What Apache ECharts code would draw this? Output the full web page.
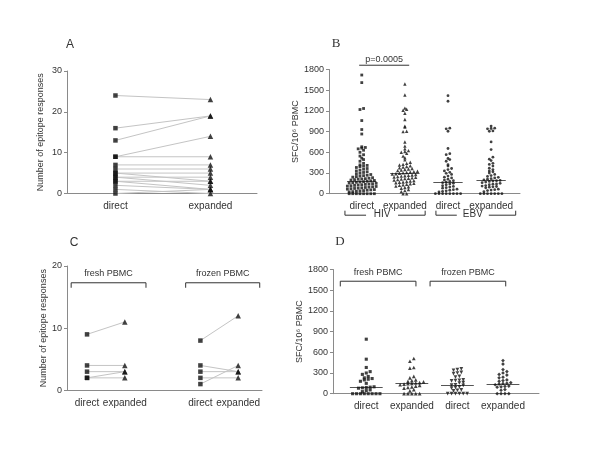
<!DOCTYPE html>
<html><head><meta charset="utf-8">
<script src="https://cdn.jsdelivr.net/npm/echarts@6/dist/echarts.min.js"></script>
<style>html,body{margin:0;background:#fff}#c{width:600px;height:450px}</style>
</head><body><div id="c"></div>
<script>
// ---------- DATA ----------
const catsA = ['direct', 'expanded'];
const aDirect   = [24, 16, 13, 9, 9, 7, 6, 5, 5, 4, 4, 3, 3, 2, 1, 0];
const aExpanded = [23, 19, 19, 14, 9, 7, 6, 5, 3, 4, 2, 3, 1, 1, 0, 1];

const catsB = ['direct', 'expanded', 'direct', 'expanded'];
const groupsB = ['HIV', 'EBV'];
const bHivDirect = [0, 0, 0, 0, 0, 0, 0, 0,
  26, 30, 35, 40, 45, 50, 55, 60, 66, 72,
  76, 80, 85, 90, 95, 100, 105, 110, 115, 120,
  125, 130, 135, 140, 145, 150, 155, 160, 165, 170,
  175, 180, 186, 192, 198, 204, 210, 214, 218,
  225, 232, 240, 248, 255, 262, 268,
  278, 288, 298, 308, 318,
  330, 342, 355, 365,
  380, 392, 400, 410, 418,
  440, 470, 495, 515,
  545, 565, 600,
  630, 650, 660, 670, 680,
  865, 930, 1060, 1220, 1235, 1610, 1720];
const bHivExpanded = [0, 0,
  30, 45, 60,
  80, 90, 100, 110, 120,
  128, 135, 142, 150, 158, 165, 170,
  176, 183, 190, 197, 204, 211, 218,
  224, 230, 236, 242, 248, 254, 260, 266,
  272, 278, 284, 290, 296, 302, 308, 314, 320,
  326, 334, 342, 350, 358, 366,
  375, 385, 395, 405, 415,
  425, 440, 455,
  490, 520, 545,
  585, 600, 612, 625, 650, 690,
  750, 900, 905, 965, 980, 1075, 1165, 1210, 1225, 1240, 1430, 1590];
const bEbvDirect = [0, 0, 0, 0, 0, 0, 0, 0,
  25, 35, 42, 50, 58, 65,
  80, 88, 96, 105, 115,
  130, 140, 150, 160, 168,
  178, 188, 198, 210,
  228, 240, 255,
  280, 295, 310,
  330, 350, 365,
  400, 420,
  470, 495, 510,
  565, 580,
  655,
  905, 940, 950, 1340, 1420];
const bEbvExpanded = [0, 0, 0, 0, 0, 0, 0,
  30, 45, 52, 58, 65,
  85, 95, 100, 104, 110, 118,
  130, 138, 142, 150, 160, 168,
  178, 184, 188, 192, 200, 210, 218,
  228, 238, 250, 262,
  280, 300, 318,
  330, 350, 370,
  400, 425, 440,
  480, 500, 530,
  640, 750,
  905, 910, 940, 945, 950, 980];
const mediansB = [185, 290, 170, 188];
const pValueB = 'p=0.0005';

const catsC = ['direct', 'expanded', 'direct', 'expanded'];
const groupsC = ['fresh PBMC', 'frozen PBMC'];
const cFreshDirect    = [9, 4, 3, 2, 2];
const cFreshExpanded  = [11, 4, 3, 3, 2];
const cFrozenDirect   = [8, 4, 3, 2, 1];
const cFrozenExpanded = [12, 3, 3, 2, 4];

const catsD = ['direct', 'expanded', 'direct', 'expanded'];
const groupsD = ['fresh PBMC', 'frozen PBMC'];
const dFreshDirect = [0, 0, 0, 0, 0, 0, 0, 0, 30, 45, 55, 80, 85, 90, 95, 100, 150, 180,
  200, 210, 220, 230, 250, 280, 300, 320, 380, 500, 790];
const dFreshExpanded = [0, 0, 0, 0, 0, 40, 60, 80, 90, 100, 110, 120, 130, 140, 145, 150, 155, 160,
  170, 180, 190, 200, 230, 250, 370, 380, 470, 510];
const dFrozenDirect = [0, 0, 0, 0, 0, 0, 40, 50, 55, 80, 90, 100, 120, 125, 130, 155, 160,
  185, 190, 195, 200, 240, 250, 290, 300, 310, 340, 350, 360];
const dFrozenExpanded = [0, 0, 0, 0, 50, 60, 95, 100, 105, 110, 130, 140, 145, 150, 160,
  180, 190, 200, 230, 240, 270, 280, 300, 320, 350, 430, 480];
const mediansD = [88, 145, 128, 140];

// ---------- LAYOUT ----------
const G = [
  {left: 67, top: 71, width: 190, height: 122.5, xmin: -0.51, xmax: 1.49},
  {left: 329, top: 69.5, width: 191, height: 124.2, xmin: -0.76, xmax: 3.67},
  {left: 67, top: 266, width: 195, height: 124.3, xmin: -0.53, xmax: 4.63},
  {left: 333, top: 269.5, width: 206, height: 124.2, xmin: -0.73, xmax: 3.79}
];
const TXT = '#333';
const AX = '#8a8a8a';
const FONT = 'Liberation Sans, Arial, sans-serif';

// row-binned dot plot layout (points sharing a row are spread sideways)
function swarm(values, col, g, ymax, rowH, dx) {
  const pxX = g.width / (g.xmax - g.xmin);
  const pxY = g.height / ymax;
  const rows = {};
  values.forEach(v => {
    const r = Math.round(v * pxY / rowH);
    (rows[r] = rows[r] || []).push(v);
  });
  const out = [];
  Object.keys(rows).forEach(r => {
    const arr = rows[r].slice().sort((a, b) => a - b);
    const k = arr.length;
    arr.forEach((v, j) => {
      const off = (j - (k - 1) / 2) * dx;
      out.push([col + off / pxX, v]);
    });
  });
  return out;
}

const xPosA = [0, 1];
const xPosB = [0, 1, 2, 3];
const xPosC = [0, 1, 3, 4];
const xPosD = [0, 1, 2, 3];

function xAxisFor(i, pos, cats) {
  return {
    gridIndex: i, type: 'value', min: G[i].xmin, max: G[i].xmax,
    axisLine: {onZero: false, lineStyle: {color: AX}}, axisTick: {show: false}, splitLine: {show: false},
    axisLabel: {customValues: pos, color: TXT, fontFamily: FONT, fontSize: 10, margin: 8,
      formatter: v => { const k = pos.indexOf(v); return k >= 0 ? cats[k] : ''; }}
  };
}
function yAxisFor(i, max, interval, name, gap) {
  return {
    gridIndex: i, type: 'value', min: 0, max: max, interval: interval,
    axisLine: {show: true, onZero: false, lineStyle: {color: AX}},
    axisTick: {show: true, length: 3, lineStyle: {color: AX}},
    splitLine: {show: false},
    axisLabel: {color: TXT, fontFamily: FONT, fontSize: 9, margin: 5, formatter: v => String(v)},
    name: name, nameLocation: 'middle', nameGap: gap,
    nameTextStyle: {color: TXT, fontFamily: FONT, fontSize: 9}
  };
}

const series = [];
function pairLines(gi, d, e, x0, x1) {
  d.forEach((v, k) => series.push({
    type: 'line', xAxisIndex: gi, yAxisIndex: gi, data: [[x0, v], [x1, e[k]]],
    symbol: 'none', silent: true, z: 1, lineStyle: {color: '#c4c4c4', width: 1}
  }));
}
function pts(gi, data, symbol, size, rot) {
  series.push({type: 'scatter', xAxisIndex: gi, yAxisIndex: gi, data: data, symbol: symbol,
    symbolSize: size, symbolRotate: rot || 0, itemStyle: {color: '#111'}, z: 3, silent: true});
}
function median(gi, col, m, half) {
  series.push({type: 'scatter', xAxisIndex: gi, yAxisIndex: gi, data: [], silent: true,
    markLine: {symbol: 'none', silent: true, label: {show: false}, z: 2,
      lineStyle: {color: '#555', width: 1, type: 'solid'},
      data: [[{coord: [col - half, m]}, {coord: [col + half, m]}]]}});
}

// Panel A
pairLines(0, aDirect, aExpanded, xPosA[0], xPosA[1]);
pts(0, aDirect.map(v => [xPosA[0], v]), 'rect', 4.5);
pts(0, aExpanded.map(v => [xPosA[1], v]), 'triangle', 5.5);

// Panel B
const bSets = [bHivDirect, bHivExpanded, bEbvDirect, bEbvExpanded];
const bSym = ['rect', 'triangle', 'circle', 'circle'];
bSets.forEach((vals, k) => {
  pts(1, swarm(vals, xPosB[k], G[1], 1800, 3.0, 3.6), bSym[k], bSym[k] === 'triangle' ? 3.4 : 2.8);
  median(1, xPosB[k], mediansB[k], 0.34);
});

// Panel C
pairLines(2, cFreshDirect, cFreshExpanded, xPosC[0], xPosC[1]);
pairLines(2, cFrozenDirect, cFrozenExpanded, xPosC[2], xPosC[3]);
pts(2, cFreshDirect.map(v => [xPosC[0], v]), 'rect', 4.5);
pts(2, cFreshExpanded.map(v => [xPosC[1], v]), 'triangle', 5.5);
pts(2, cFrozenDirect.map(v => [xPosC[2], v]), 'rect', 4.5);
pts(2, cFrozenExpanded.map(v => [xPosC[3], v]), 'triangle', 5.5);

// Panel D
const dSets = [dFreshDirect, dFreshExpanded, dFrozenDirect, dFrozenExpanded];
const dSym = ['rect', 'triangle', 'triangle', 'diamond'];
const dRot = [0, 0, 180, 0];
dSets.forEach((vals, k) => {
  pts(3, swarm(vals, xPosD[k], G[3], 1800, 3.4, 3.9), dSym[k], dSym[k] === 'rect' ? 3.1 : 3.7, dRot[k]);
  median(3, xPosD[k], mediansD[k], 0.36);
});

const chart = echarts.init(document.getElementById('c'), null, {renderer: 'canvas'});
chart.setOption({
  animation: false,
  backgroundColor: '#fff',
  grid: G.map(g => ({left: g.left, top: g.top, width: g.width, height: g.height, containLabel: false})),
  xAxis: [xAxisFor(0, xPosA, catsA), xAxisFor(1, xPosB, catsB), xAxisFor(2, xPosC, catsC), xAxisFor(3, xPosD, catsD)],
  yAxis: [
    yAxisFor(0, 30, 10, 'Number of epitope responses', 22),
    yAxisFor(1, 1800, 300, 'SFC/10⁶ PBMC', 26),
    yAxisFor(2, 20, 10, 'Number of epitope responses', 19),
    yAxisFor(3, 1800, 300, 'SFC/10⁶ PBMC', 26)
  ],
  series: series
});

// ---------- annotations placed via axis conversion ----------
const gfx = [];
function px(gi, x, y) { return chart.convertToPixel({gridIndex: gi}, [x, y]); }
function text(x, y, t, size, family, align) {
  gfx.push({type: 'text', silent: true, style: {x: x, y: y, text: t, fill: TXT,
    font: size + 'px ' + (family || FONT), align: align || 'center', textAlign: align || 'center',
    verticalAlign: 'middle', textVerticalAlign: 'middle'}});
}
function poly(points) {
  gfx.push({type: 'polyline', silent: true, shape: {points: points}, style: {stroke: '#333', lineWidth: 1, fill: null}});
}
function topBracket(gi, x0, x1, yLine, yTick, yText, label) {
  const a = px(gi, x0, yLine), b = px(gi, x1, yLine), at = px(gi, x0, yTick), t = px(gi, (x0 + x1) / 2, yText);
  poly([[at[0], at[1]], [a[0], a[1]], [b[0], b[1]], [b[0], at[1]]]);
  text(t[0], t[1], label, 9);
}
topBracket(2, -0.42, 1.56, 17.3, 16.5, 18.8, groupsC[0]);
topBracket(2, 2.61, 4.57, 17.3, 16.5, 18.8, groupsC[1]);
topBracket(3, -0.57, 1.09, 1630, 1555, 1760, groupsD[0]);
topBracket(3, 1.40, 3.06, 1630, 1555, 1760, groupsD[1]);

function bottomBracket(gi, x0, x1, label) {
  const a = px(gi, x0, 0), b = px(gi, x1, 0);
  const y = a[1] + 21.5, yt = y - 4.5;
  const mid = (a[0] + b[0]) / 2 - 3;
  poly([[a[0], yt], [a[0], y], [mid - 16, y]]);
  poly([[mid + 16, y], [b[0], y], [b[0], yt]]);
  text(mid, y - 1, label, 10);
}
bottomBracket(1, -0.39, 1.47, groupsB[0]);
bottomBracket(1, 1.72, 3.57, groupsB[1]);

const p0 = px(1, -0.06, 1862), p1 = px(1, 1.10, 1862);
poly([[p0[0], p0[1]], [p1[0], p1[1]]]);
text((p0[0] + p1[0]) / 2, p0[1] - 6, pValueB, 9);

text(70, 45, 'A', 12, FONT);
text(336, 44, 'B', 13, 'Liberation Serif, serif');
text(74, 243, 'C', 12, FONT);
text(340, 242, 'D', 13, 'Liberation Serif, serif');

chart.setOption({graphic: gfx});
</script>
</body></html>
